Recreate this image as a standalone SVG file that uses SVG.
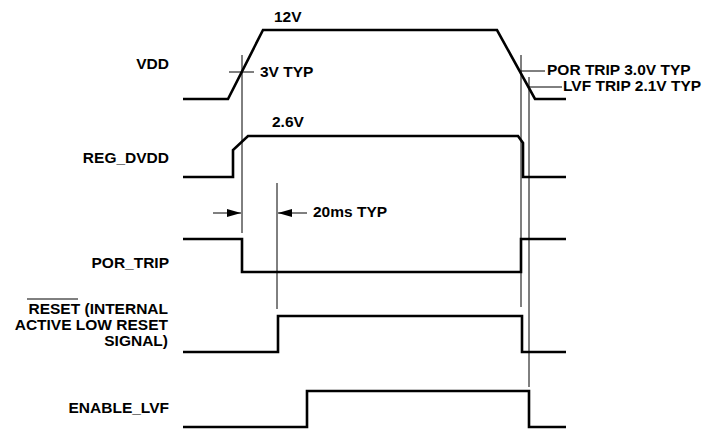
<svg xmlns="http://www.w3.org/2000/svg" width="706" height="430" viewBox="0 0 706 430">
<defs>
<style>
.lbl{font-family:"Liberation Sans",Arial,sans-serif;font-weight:bold;font-size:15.5px;fill:#000}
.r{text-anchor:end}
.sig{fill:none;stroke:#000;stroke-width:2.6;stroke-linejoin:miter}
.thin{fill:none;stroke:#000;stroke-width:1}
</style>
<marker id="ah" viewBox="0 0 14 8" refX="14" refY="4" markerWidth="14" markerHeight="8" markerUnits="userSpaceOnUse" orient="auto">
<path d="M0,0 L14,4 L0,8 Z" fill="#000"/>
</marker>
</defs>
<rect width="706" height="430" fill="#fff"/>
<g id="vdd">
<text class="lbl r" x="169" y="69">VDD</text>
<polyline class="sig" points="183,99 228,99 263,30 497,30 535,99 566,99"/>
<text class="lbl" x="274" y="22">12V</text>
<text class="lbl" x="260" y="77">3V TYP</text>
<text class="lbl" x="547" y="75">POR TRIP 3.0V TYP</text>
<text class="lbl" x="563" y="91">LVF TRIP 2.1V TYP</text>
</g>
<g id="reg_dvdd">
<text class="lbl r" x="169" y="163">REG_DVDD</text>
<polyline class="sig" points="183,177 233,177 233,150 248,136 518,136 523,143 523,177 566,177"/>
<text class="lbl" x="272" y="127">2.6V</text>
</g>
<g id="por_trip">
<text class="lbl r" x="169" y="268">POR_TRIP</text>
<polyline class="sig" points="183,239 242,239 242,272 521,272 521,239 566,239"/>
<text class="lbl" x="313" y="217">20ms TYP</text>
</g>
<g id="reset">
<text class="lbl r" x="168" y="314">RESET (INTERNAL</text>
<line class="thin" x1="27" y1="299" x2="78" y2="299" stroke-width="1.3"/>
<text class="lbl r" x="168" y="330">ACTIVE LOW RESET</text>
<text class="lbl r" x="168" y="346">SIGNAL)</text>
<polyline class="sig" points="183,352 278,352 278,316 522,316 522,352 566,352"/>
</g>
<g id="enable_lvf">
<text class="lbl r" x="169" y="413">ENABLE_LVF</text>
<polyline class="sig" points="183,427 307,427 307,391 529,391 529,427 566,427"/>
</g>
<g id="connectors">
<line class="thin" x1="242" y1="55" x2="242" y2="233"/>
<line class="thin" x1="229" y1="72" x2="254" y2="72"/>
<line class="thin" x1="277" y1="183" x2="277" y2="309"/>
<line class="thin" x1="521" y1="55" x2="521" y2="307"/>
<line class="thin" x1="521" y1="71" x2="545" y2="71"/>
<line class="thin" x1="529" y1="77" x2="529" y2="387"/>
<line class="thin" x1="529" y1="87" x2="562" y2="87"/>
<line class="thin" x1="213" y1="213" x2="241" y2="213" marker-end="url(#ah)"/>
<line class="thin" x1="307" y1="213" x2="278" y2="213" marker-end="url(#ah)"/>
</g>
</svg>
